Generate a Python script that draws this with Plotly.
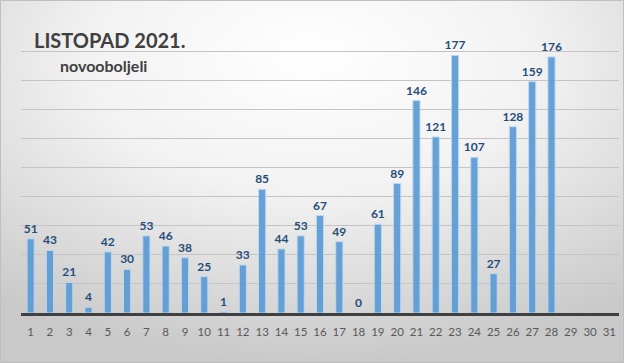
import base64
import plotly.graph_objects as go

days = [str(d) for d in range(1, 32)]
cases = [51, 43, 21, 4, 42, 30, 53, 46, 38, 25, 1, 33, 85, 44, 53, 67, 49, 0,
         61, 89, 146, 121, 177, 107, 27, 128, 159, 176, None, None, None]
labels = ["" if v is None else str(v) for v in cases]
title_text = "LISTOPAD 2021."
subtitle_text = "novooboljeli"

W, H = 624, 363
L, R, T, B = 21, 5, 22, 50
pw, ph = W - L - R, H - T - B

svg = f'''<svg xmlns="http://www.w3.org/2000/svg" width="{W}" height="{H}" viewBox="0 0 {W} {H}" preserveAspectRatio="none">
<defs><radialGradient id="g" cx="50%" cy="20%" r="80%" fx="50%" fy="15%">
<stop offset="0%" stop-color="#ffffff"/><stop offset="45%" stop-color="#f2f2f2"/><stop offset="100%" stop-color="#c9c9c9"/>
</radialGradient></defs>
<rect x="0" y="0" width="{W}" height="{H}" fill="url(#g)"/>
<rect x="0.5" y="0.5" width="{W-1}" height="{H-1}" fill="none" stroke="#bfbfbf" stroke-width="1"/>
</svg>'''
src = "data:image/svg+xml;base64," + base64.b64encode(svg.encode()).decode()

fig = go.Figure(go.Bar(
    x=days, y=cases, text=labels, textposition="outside", constraintext="none",
    textfont=dict(family="Lato, 'Open Sans', sans-serif", size=12, color="#264d7a", weight="bold"),
    marker=dict(color="#5b9bd5", opacity=0.92, line=dict(color="#bdd7ee", width=1)),
    width=0.37, cliponaxis=False, hoverinfo="skip",
))

fig.update_layout(
    width=W, height=H,
    margin=dict(l=L, r=R, t=T, b=B),
    paper_bgcolor="white", plot_bgcolor="rgba(0,0,0,0)",
    showlegend=False,
    images=[dict(source=src, xref="paper", yref="paper",
                 x=-L / pw, y=1 + T / ph, sizex=W / pw, sizey=H / ph,
                 xanchor="left", yanchor="top", sizing="stretch", layer="below")],
    annotations=[
        dict(text=f"<b>{title_text}</b>", xref="paper", yref="paper",
             x=(32 - L) / pw, y=1 - (40 - T) / ph, xanchor="left", yanchor="middle",
             showarrow=False, font=dict(family="Lato, sans-serif", size=20, color="#404040")),
        dict(text=f"<b>{subtitle_text}</b>", xref="paper", yref="paper",
             x=(58 - L) / pw, y=1 - (65 - T) / ph, xanchor="left", yanchor="middle",
             showarrow=False, font=dict(family="Lato, sans-serif", size=16, color="#404040")),
    ],
)
fig.update_xaxes(
    type="category", showgrid=False, showline=True, linecolor="#404040", linewidth=2.5,
    ticks="outside", ticklen=6, tickcolor="rgba(0,0,0,0)",
    tickfont=dict(family="Lato, 'Open Sans', sans-serif", size=11.5, color="#595959"),
    fixedrange=True,
)
fig.update_yaxes(
    range=[0, 200], dtick=20, showticklabels=False, showgrid=True,
    gridcolor="#c4c4c4", gridwidth=1, zeroline=False, fixedrange=True,
)

fig.write_html("out.html", config={"displayModeBar": False})
with open("out.html", encoding="utf-8") as f:
    html = f.read()
html = html.replace("<head>", "<head><style>html,body{margin:0;padding:0;overflow:hidden;}</style>", 1)
with open("out.html", "w", encoding="utf-8") as f:
    f.write(html)
